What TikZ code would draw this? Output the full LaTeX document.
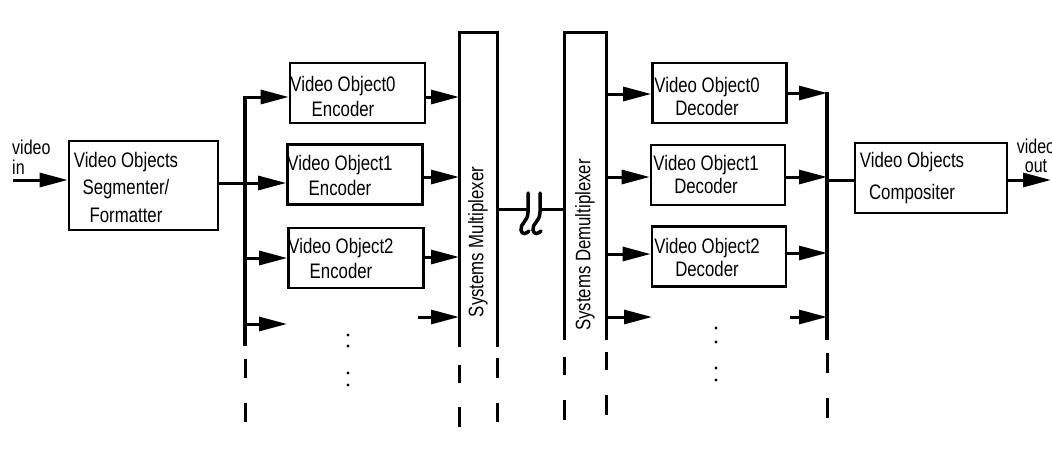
\documentclass[tikz,border=0pt]{standalone}
\usepackage{fontspec}
\setmainfont{Liberation Sans}[FakeStretch=0.8]
\usetikzlibrary{arrows.meta}
\begin{document}
\begin{tikzpicture}[x=1pt,y=-1pt,
  lbl/.style={font=\fontsize{21}{25}\selectfont, align=center, inner sep=0pt},
  blk/.style={draw, line width=2.6pt, inner sep=0pt},
  codec/.style={blk, minimum width=135pt, minimum height=60pt},
  wire/.style={line width=3pt},
  arr/.style={wire, -{Triangle[length=28pt,width=14pt]}},
  bus/.style={line width=4pt},
  bar/.style={line width=3pt},
  tick/.style={line width=3pt},
  brk/.style={line width=3.5pt, line cap=round},
  frame/.style={inner sep=0pt, outer sep=0pt},
]
\useasboundingbox (0,0) rectangle (1052,463);

% ---------- blocks ----------
\node[blk, minimum width=149pt, minimum height=89pt] (seg) at (143.5,185.5) {};
\node[lbl, font=\fontsize{21}{27.5}\selectfont] (segt) at (126,187) {Video Objects\\Segmenter/\\Formatter};

\node[codec] (enc0) at (357.5,93) {};
\node[codec] (enc1) at (355,174.5) {};
\node[codec] (enc2) at (356,258) {};
\node[lbl] (enc0t) at (343,96.5) {Video Object0\\Encoder};
\node[lbl] (enc1t) at (340,175.5) {Video Object1\\Encoder};
\node[lbl] (enc2t) at (341,258.5) {Video Object2\\Encoder};

\node[frame, minimum width=38pt, minimum height=315pt] (mux) at (478,189.5) {};
\node[frame, minimum width=42pt, minimum height=308pt] (demux) at (585,186) {};
\draw[bar] (mux.south west) -- (mux.north west) -- (mux.north east) -- (mux.south east);
\draw[bar] (demux.south west) -- (demux.north west) -- (demux.north east) -- (demux.south east);
\node[lbl, rotate=90] (muxt) at (478,242) {Systems Multiplexer};
\node[lbl, rotate=90] (demuxt) at (585,245) {Systems Demultiplexer};

\node[codec, minimum width=134pt] (dec0) at (719.5,93) {};
\node[codec, minimum width=134pt] (dec1) at (718,175) {};
\node[codec, minimum width=134pt] (dec2) at (719,256.5) {};
\node[lbl, font=\fontsize{21}{23}\selectfont] (dec0t) at (707,96) {Video Object0\\Decoder};
\node[lbl, font=\fontsize{21}{23}\selectfont] (dec1t) at (706,174) {Video Object1\\Decoder};
\node[lbl, font=\fontsize{21}{23}\selectfont] (dec2t) at (707,257.5) {Video Object2\\Decoder};

\node[blk, minimum width=152pt, minimum height=70pt] (comp) at (931,178) {};
\node[lbl, font=\fontsize{21}{32}\selectfont] (compt) at (912,178.5) {Video Objects\\Compositer};

\node[lbl, font=\fontsize{20}{20}\selectfont, align=left, anchor=west] (vint) at (12,157) {video\\in};
\node[lbl, font=\fontsize{20}{19}\selectfont] (voutt) at (1036,156) {video\\out};

% ---------- input side ----------
\coordinate (vin) at (13,180);
\draw[arr] (vin) -- (vin -| seg.west);

\coordinate (bl0) at (245,97);
\coordinate (bl1) at (245,183);
\coordinate (bl2) at (245,258);
\coordinate (bl3) at (245,324);
\coordinate (blb) at (245,346);
\coordinate (el3) at (287,324);
\draw[bus] ([yshift=1.5pt]bl0) -- (blb);
\draw[arr] (bl0) -- (bl0 -| enc0.west);
\draw[arr] (seg.east |- bl1) -- (bl1 -| enc1.west);
\draw[arr] (bl2) -- (bl2 -| enc2.west);
\draw[arr] (bl3) -- (el3);

% encoder outputs into the multiplexer
\coordinate (eo0) at (0,97);
\coordinate (eo1) at (0,177);
\coordinate (eo2) at (0,257);
\coordinate (eo3) at (418,317);
\draw[arr] (enc0.east |- eo0) -- (mux.west |- eo0);
\draw[arr] (enc1.east |- eo1) -- (mux.west |- eo1);
\draw[arr] (enc2.east |- eo2) -- (mux.west |- eo2);
\draw[arr] (eo3) -- (mux.west |- eo3);

% ---------- channel with break ----------
\coordinate (brkL) at (528,209);
\coordinate (brkR) at (540,209);
\draw[wire] (mux.east |- brkL) -- (brkL);
\draw[wire] (brkR) -- (brkR -| demux.west);
\draw[brk] (528,193) -- (528,212) .. controls (528,222) and (520,223) .. (521,230)
           .. controls (522,235) and (526,234) .. (529,231);
\draw[brk] (540,193) -- (540,212) .. controls (540,222) and (532,223) .. (533,230)
           .. controls (534,235) and (538,234) .. (541,231);

% ---------- output side ----------
\coordinate (di0) at (0,94);
\coordinate (di1) at (0,177);
\coordinate (di2) at (0,254);
\coordinate (di3) at (652,317);
\draw[arr] (demux.east |- di0) -- (dec0.west |- di0);
\draw[arr] (demux.east |- di1) -- (dec1.west |- di1);
\draw[arr] (demux.east |- di2) -- (dec2.west |- di2);
\draw[arr] (demux.east |- di3) -- (di3);

\coordinate (br0) at (827,93);
\coordinate (br1) at (827,177);
\coordinate (br2) at (827,253);
\coordinate (br3) at (827,317);
\coordinate (brc) at (827,180);
\coordinate (brb) at (827,340);
\coordinate (do3) at (790,317);
\draw[bus] ([yshift=1.5pt]br0) -- (brb);
\draw[arr] (dec0.east |- br0) -- (br0);
\draw[arr] (dec1.east |- br1) -- (br1);
\draw[arr] (dec2.east |- br2) -- (br2);
\draw[arr] (do3) -- (br3);
\draw[wire] (brc) -- (brc -| comp.west);

\coordinate (vout) at (1051,180);
\draw[arr] (comp.east |- vout) -- (vout);

% ---------- continuation marks ----------
\draw[tick] (245,359) -- (245,378) (245,403) -- (245,422);
\draw[tick] (459,365) -- (459,383) (459,407) -- (459,427);
\draw[tick] (497,358) -- (497,378) (497,403) -- (497,422);
\draw[tick] (564,357) -- (564,375) (564,400) -- (564,420);
\draw[tick] (606,352) -- (606,370) (606,395) -- (606,415);
\draw[tick] (827,353) -- (827,373) (827,398) -- (827,418);

\foreach \y in {335,346,373,385} \fill (348,\y) circle (1.6pt);
\foreach \y in {328,342,368,380} \fill (716,\y) circle (1.6pt);
\end{tikzpicture}
\end{document}
